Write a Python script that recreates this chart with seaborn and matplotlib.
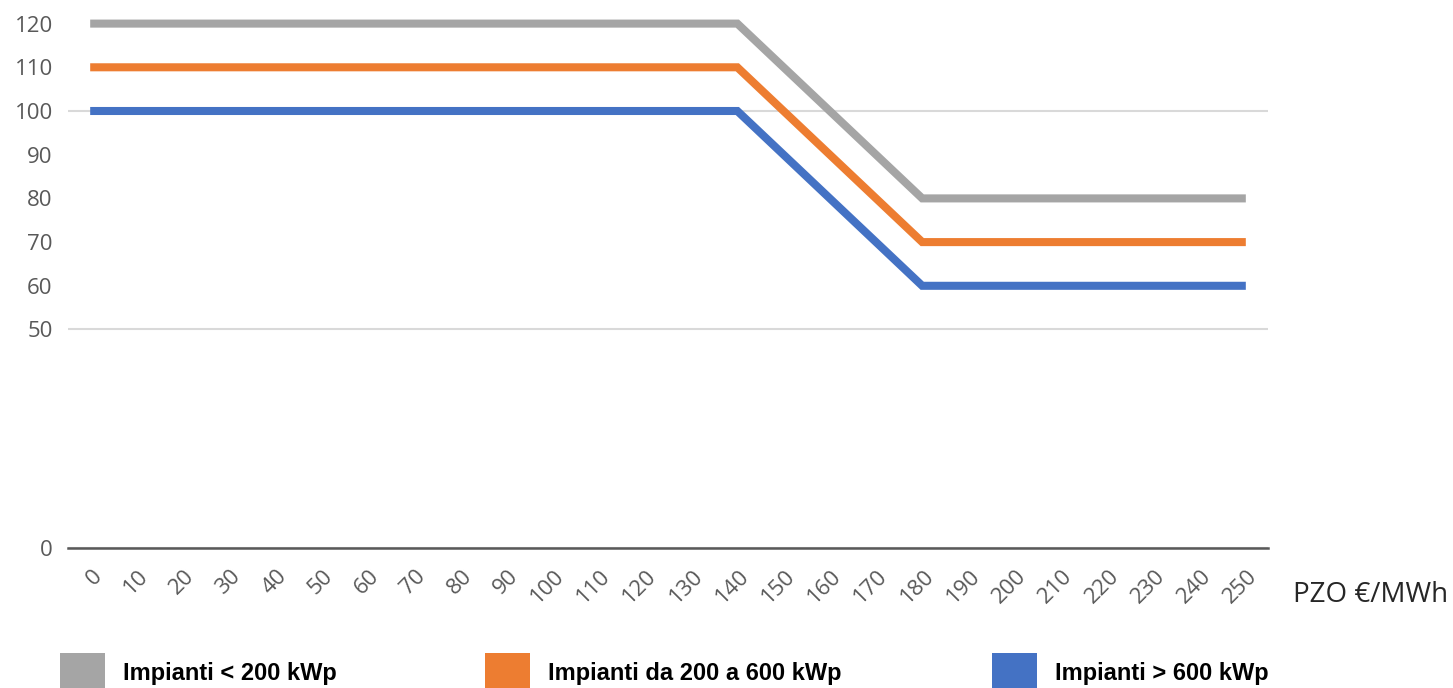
import matplotlib
matplotlib.use("Agg")
import matplotlib.pyplot as plt
import matplotlib.transforms as mtransforms
from matplotlib.patches import Rectangle
import pandas as pd
import seaborn as sns

# Breakpoints of the tariff curves (PZO in €/MWh)
pzo = [0, 140, 180, 250]
tariff_small = [120, 120, 80, 80]    # Impianti < 200 kWp
tariff_medium = [110, 110, 70, 70]   # Impianti da 200 a 600 kWp
tariff_large = [100, 100, 60, 60]    # Impianti > 600 kWp

series_names = ["Impianti < 200 kWp", "Impianti da 200 a 600 kWp", "Impianti > 600 kWp"]
series_colors = ["#A5A5A5", "#ED7D31", "#4472C4"]

x_ticks = list(range(0, 251, 10))
y_grid_ticks = [0, 50, 100]
y_label_ticks = [60, 70, 80, 90, 110, 120]

df = pd.concat([
    pd.DataFrame({"pzo": pzo, "valore": vals, "serie": name})
    for name, vals in zip(series_names, [tariff_small, tariff_medium, tariff_large])
])

sns.set_theme(style="white")
plt.rcParams["font.family"] = ["Open Sans", "DejaVu Sans"]

W, H = 1453, 688
fig = plt.figure(figsize=(W / 100, H / 100), dpi=100)
ax = fig.add_axes([68 / W, (H - 548) / H, 1200 / W, 548 / H])

sns.lineplot(data=df, x="pzo", y="valore", hue="serie", hue_order=series_names,
             palette=series_colors, linewidth=5.8, ax=ax, legend=False,
             solid_capstyle="butt", solid_joinstyle="miter", zorder=3)

ax.set_xlim(-4.8, 254.8)
ax.set_ylim(0, 125.4)
ax.set_xlabel("")
ax.set_ylabel("")

# Gridlines only at the major steps; the remaining values get labels alone
ax.set_yticks(y_grid_ticks)
ax.set_yticks(y_label_ticks, minor=True)
ax.set_yticklabels([str(v) for v in y_grid_ticks])
ax.set_yticklabels([str(v) for v in y_label_ticks], minor=True)
ax.yaxis.grid(True, which="major", color="#D9D9D9", linewidth=1.5, zorder=0)
ax.xaxis.grid(False)
ax.tick_params(axis="y", which="both", length=0, pad=11, labelsize=16, labelcolor="#595959")

ax.set_xticks(x_ticks)
ax.set_xticklabels([str(v) for v in x_ticks], rotation=45, ha="right")
ax.tick_params(axis="x", length=0, pad=13, labelsize=16, labelcolor="#595959")
shift = mtransforms.ScaledTranslation(16 / 100, 0, fig.dpi_scale_trans)
for lbl in ax.get_xticklabels():
    lbl.set_transform(lbl.get_transform() + shift)

for side in ["left", "right", "top"]:
    ax.spines[side].set_visible(False)
ax.spines["bottom"].set_color("#595959")
ax.spines["bottom"].set_linewidth(1.8)
ax.spines["bottom"].set_zorder(4)

fig.text(1293 / W, 1 - 595 / H, "PZO €/MWh", fontsize=20, color="#262626",
         ha="left", va="center")

# Legend row along the bottom edge
legend_x = [60, 485, 992]
for x0, name, color in zip(legend_x, series_names, series_colors):
    fig.add_artist(Rectangle((x0 / W, 0), 45 / W, (H - 653) / H,
                             transform=fig.transFigure, facecolor=color,
                             edgecolor="none"))
    fig.text((x0 + 63) / W, 1 - 680 / H, name, fontsize=17, fontweight="bold",
             family=["Liberation Sans", "DejaVu Sans"], color="black",
             ha="left", va="baseline")

fig.savefig("out.png", dpi=100, facecolor="white")
